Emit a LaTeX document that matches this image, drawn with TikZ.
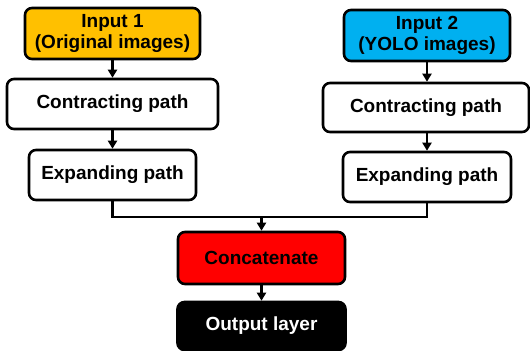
\documentclass[tikz,border=0pt]{standalone}
\usepackage{fontspec}
\setmainfont{Liberation Sans}
\usetikzlibrary{arrows.meta}
\definecolor{inyellow}{HTML}{FFC000}
\definecolor{inblue}{HTML}{00B0F0}
\begin{document}
\begin{tikzpicture}[x=0.5pt,y=-0.5pt,
 box/.style={draw=black,line width=1.3pt,rounded corners=3.5pt,inner sep=0pt,
   align=center,font=\fontsize{9.5}{10.5}\selectfont\bfseries},
 link/.style={line width=1.3pt,-{Triangle[length=4pt,width=4.5pt]}}]
 \useasboundingbox (0,0) rectangle (530,350);
 % left branch
 \node[box,fill=inyellow,minimum width=87.5pt,minimum height=25.5pt] (inA) at (112.5,33.5) {Input 1\\(Original images)};
 \node[box,fill=white,minimum width=105.5pt,minimum height=25pt] (conA) at (112.5,104) {Contracting path};
 \node[box,fill=white,minimum width=83.5pt,minimum height=25pt] (expA) at (112.5,175) {Expanding path};
 % right branch
 \node[box,fill=inblue,minimum width=83pt,minimum height=25.5pt] (inB) at (427,35.5) {Input 2\\(YOLO images)};
 \node[box,fill=white,minimum width=103pt,minimum height=24.5pt] (conB) at (426,107.5) {Contracting path};
 \node[box,fill=white,minimum width=84pt,minimum height=25pt] (expB) at (427,177) {Expanding path};
 % merge
 \coordinate (join) at (261.5,217);
 \node[box,fill=red,minimum width=83.5pt,minimum height=26pt] (cat) at (261.5,258) {Concatenate};
 \node[box,fill=black,text=white,minimum width=84pt,minimum height=24pt] (out) at (261.5,326) {Output layer};
 \draw[link] (inA) -- (conA);
 \draw[link] (conA) -- (expA);
 \draw[link] (inB) -- (inB |- conB.north);
 \draw[link] (inB |- conB.south) -- (expB);
 \draw[line width=1.3pt] (expA.south) |- (join) -| (expB.south);
 \draw[link] (join) -- (cat);
 \draw[link] (cat) -- (out);
\end{tikzpicture}
\end{document}
